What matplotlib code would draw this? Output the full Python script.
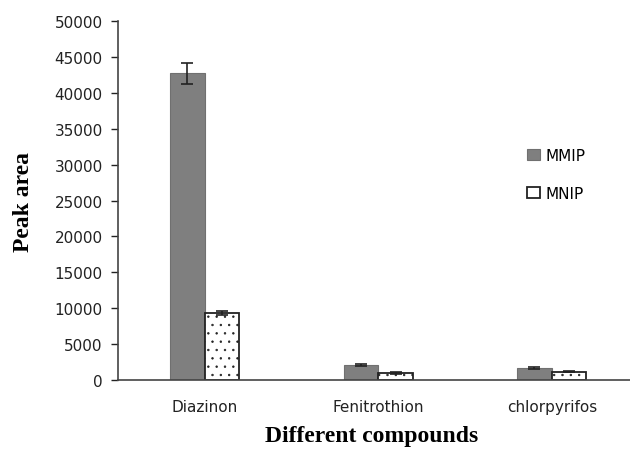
import numpy as np
import matplotlib
matplotlib.use('Agg')
from matplotlib import pyplot as plt

compounds = ['Diazinon', 'Fenitrothion', 'chlorpyrifos']
mmip = [42700, 2080, 1630]
mmip_err = [1500, 80, 150]
mnip = [9300, 970, 1150]
mnip_err = [300, 120, 80]

plt.rcParams['hatch.color'] = '#c4c4c4'
plt.rcParams['hatch.linewidth'] = 0.5

fig = plt.figure(figsize=(6.3, 4.52), dpi=100)
ax = fig.add_axes([118/630, 71/452, 520.5/630, 359/452])

x = np.arange(len(compounds))
w = 0.2
ax.bar(x - w/2, mmip, w, color='#7f7f7f', edgecolor='#707070', linewidth=0.8,
       yerr=mmip_err, capsize=4, error_kw=dict(ecolor='#222222', elinewidth=1.2, capthick=1.2),
       label='MMIP')
ax.bar(x + w/2, mnip, w, color='white', edgecolor='#222222', linewidth=1.3, hatch='..',
       yerr=mnip_err, capsize=4, error_kw=dict(ecolor='#222222', elinewidth=1.2, capthick=1.2),
       label='MNIP')

ax.set_xlim(-0.5, 2.5)
ax.set_ylim(0, 50000)
ax.set_yticks(np.arange(0, 50001, 5000))
ax.set_xticks(x)
ax.set_xticklabels(compounds)
ax.tick_params(axis='x', length=0, pad=14, labelsize=11, colors='#222222')
ax.tick_params(axis='y', direction='out', length=5, width=1, labelsize=11,
               colors='#222222', pad=6)
for s in ['top', 'right']:
    ax.spines[s].set_visible(False)
for s in ['left', 'bottom']:
    ax.spines[s].set_color('#444444')
    ax.spines[s].set_linewidth(1.2)

ax.set_ylabel('Peak area', fontfamily='Liberation Serif', fontweight='bold', fontsize=17)
ax.yaxis.set_label_coords(-84/520.5, 0.5)
fig.text(372/630, 1 - 437/452, 'Different compounds', fontfamily='Liberation Serif',
         fontweight='bold', fontsize=17, ha='center', va='center')

leg = ax.legend(loc='upper left', bbox_to_anchor=(0.76, 0.685), frameon=False,
                fontsize=11, handlelength=0.8, handleheight=0.8, labelspacing=1.5,
                handletextpad=0.4)
leg.legend_handles[1].set_hatch(None)

fig.savefig('out.png', dpi=100)
